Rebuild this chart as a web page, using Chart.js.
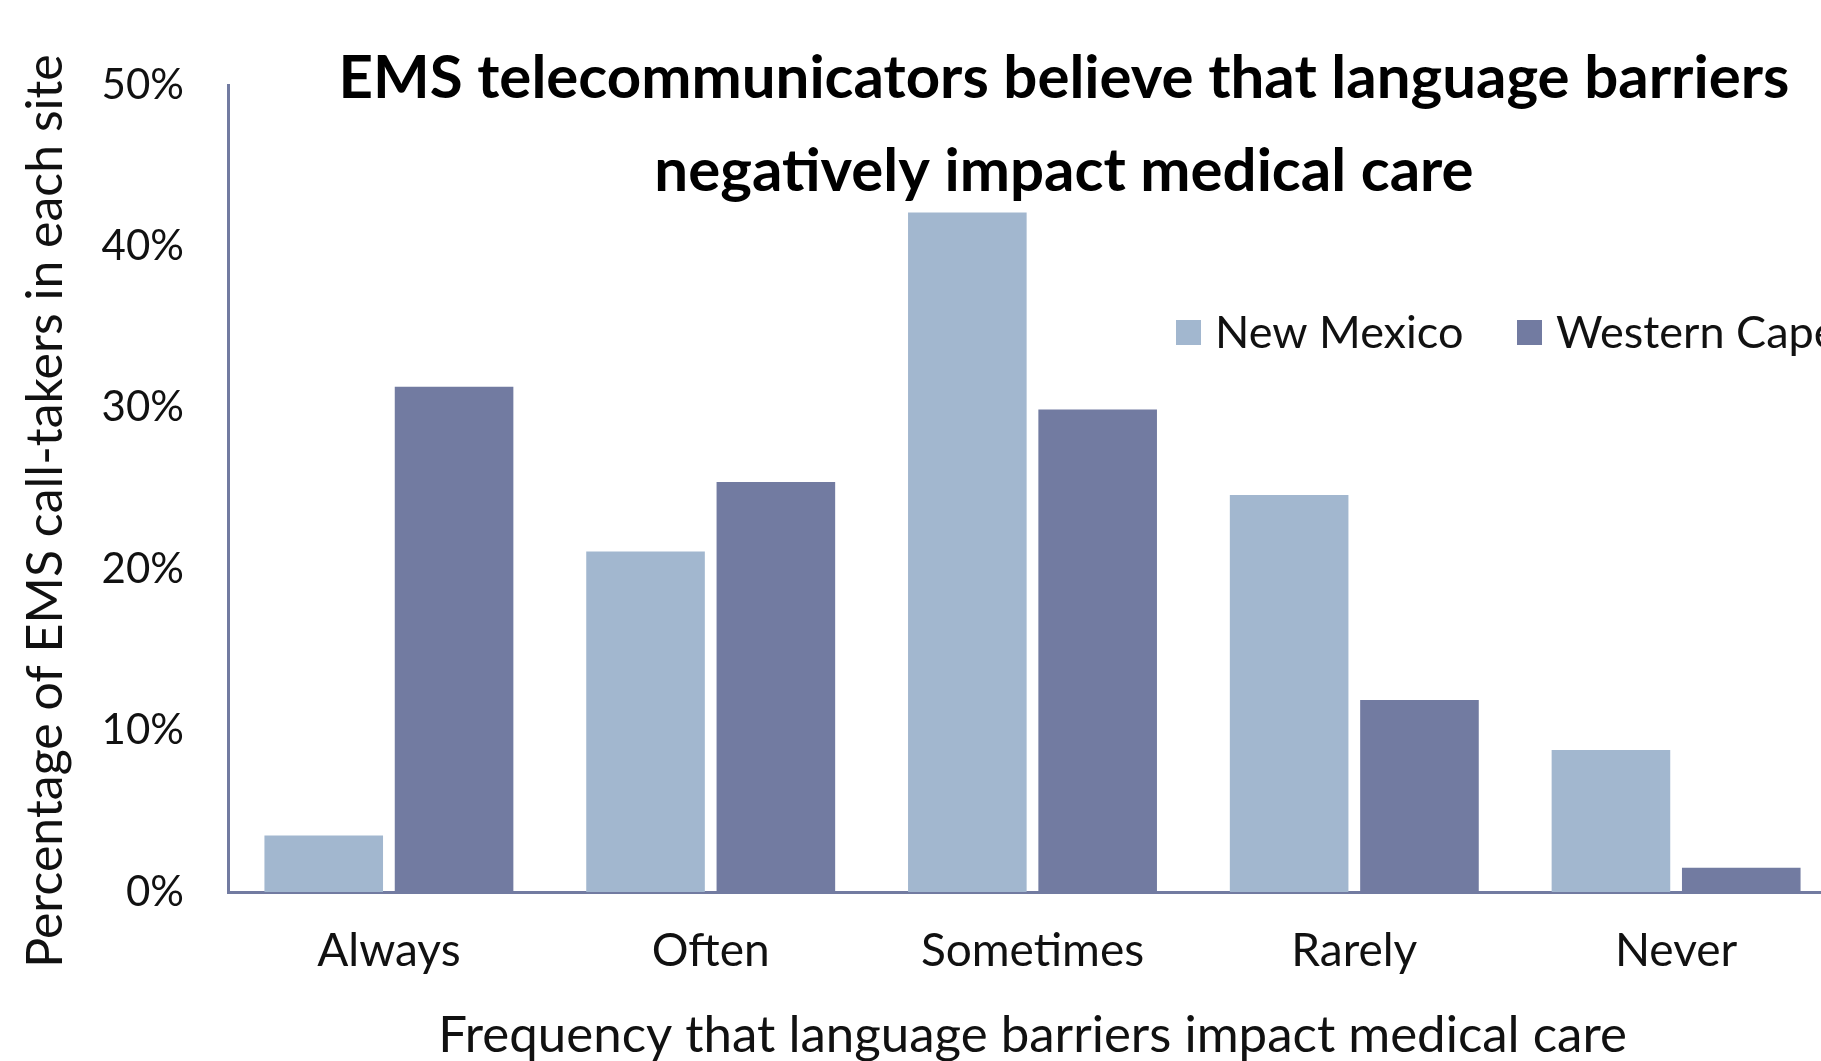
<!DOCTYPE html>
<html><head><meta charset="utf-8">
<script src="https://cdn.jsdelivr.net/npm/chart.js@4.4.1/dist/chart.umd.min.js"></script>
<style>
html,body{margin:0;padding:0;overflow:hidden;background:#fff;width:1821px;height:1061px}
#wrap{position:absolute;left:0;top:0;width:1840px;height:1061px}
canvas{display:block}
</style>
</head><body><div id="wrap"><canvas id="c" width="1840" height="1061"></canvas></div>
<script>
const categories = ['Always', 'Often', 'Sometimes', 'Rarely', 'Never'];
const newMexico = [3.5, 21.1, 42.1, 24.6, 8.8];
const westernCape = [31.3, 25.4, 29.9, 11.9, 1.5];
const seriesNames = ['New Mexico', 'Western Cape'];
const yTickValues = [0, 10, 20, 30, 40, 50];
const titleLines = ['EMS telecommunicators believe that language barriers', 'negatively impact medical care'];
const xTitle = 'Frequency that language barriers impact medical care';
const yTitle = 'Percentage of EMS call-takers in each site';

const colors = ['#A2B7CF', '#727BA1'];
const textColor = '#111';
const FONT = 'Lato, "Open Sans", sans-serif';

const overlay = {
  id: 'overlay',
  afterDraw(chart) {
    const ctx = chart.ctx;
    ctx.save();
    // Title
    ctx.fillStyle = '#000';
    ctx.font = 'bold 60px ' + FONT;
    ctx.textAlign = 'center';
    ctx.textBaseline = 'middle';
    ctx.fillText(titleLines[0], 1064, 79);
    ctx.fillText(titleLines[1], 1064, 172);
    // Legend
    ctx.font = '45px ' + FONT;
    ctx.textAlign = 'left';
    const lx = [1176, 1517];
    chart.data.datasets.forEach((ds, i) => {
      ctx.fillStyle = ds.backgroundColor;
      ctx.fillRect(lx[i], 320, 25, 25);
      ctx.fillStyle = textColor;
      ctx.fillText(ds.label, lx[i] + 39, 333);
    });
    // Y title
    ctx.translate(46, 511);
    ctx.rotate(-Math.PI / 2);
    ctx.textAlign = 'center';
    ctx.font = '50px ' + FONT;
    ctx.fillStyle = textColor;
    ctx.fillText(yTitle, 0, 0);
    ctx.restore();
  }
};

new Chart(document.getElementById('c'), {
  type: 'bar',
  data: {
    labels: categories,
    datasets: [
      { label: seriesNames[0], data: newMexico, backgroundColor: colors[0] },
      { label: seriesNames[1], data: westernCape, backgroundColor: colors[1] }
    ]
  },
  options: {
    responsive: false,
    animation: false,
    devicePixelRatio: 1,
    categoryPercentage: 0.81,
    barPercentage: 0.91,
    layout: { padding: { top: 85, right: 3, bottom: 0, left: 0 } },
    plugins: { legend: { display: false }, title: { display: false }, tooltip: { enabled: false } },
    scales: {
      x: {
        grid: { display: false, drawTicks: false },
        border: { display: true, color: colors[1], width: 3 },
        ticks: { color: textColor, padding: 32, font: { family: FONT, size: 46, lineHeight: 1.2 } },
        title: { display: true, text: xTitle, color: textColor, padding: { top: 0, bottom: 0 }, font: { family: FONT, size: 51, lineHeight: 1 } },
        afterFit(scale) { scale.height = 169; }
      },
      y: {
        min: 0, max: 50,
        afterBuildTicks(scale) { scale.ticks = yTickValues.map(v => ({ value: v })); },
        grid: { display: false, drawTicks: false },
        border: { display: true, color: colors[1], width: 3 },
        ticks: { color: textColor, padding: 44, font: { family: FONT, size: 42 }, callback: v => v + '%' },
        afterFit(scale) { scale.width = 228; }
      }
    }
  },
  plugins: [overlay]
});
</script>
</body></html>
